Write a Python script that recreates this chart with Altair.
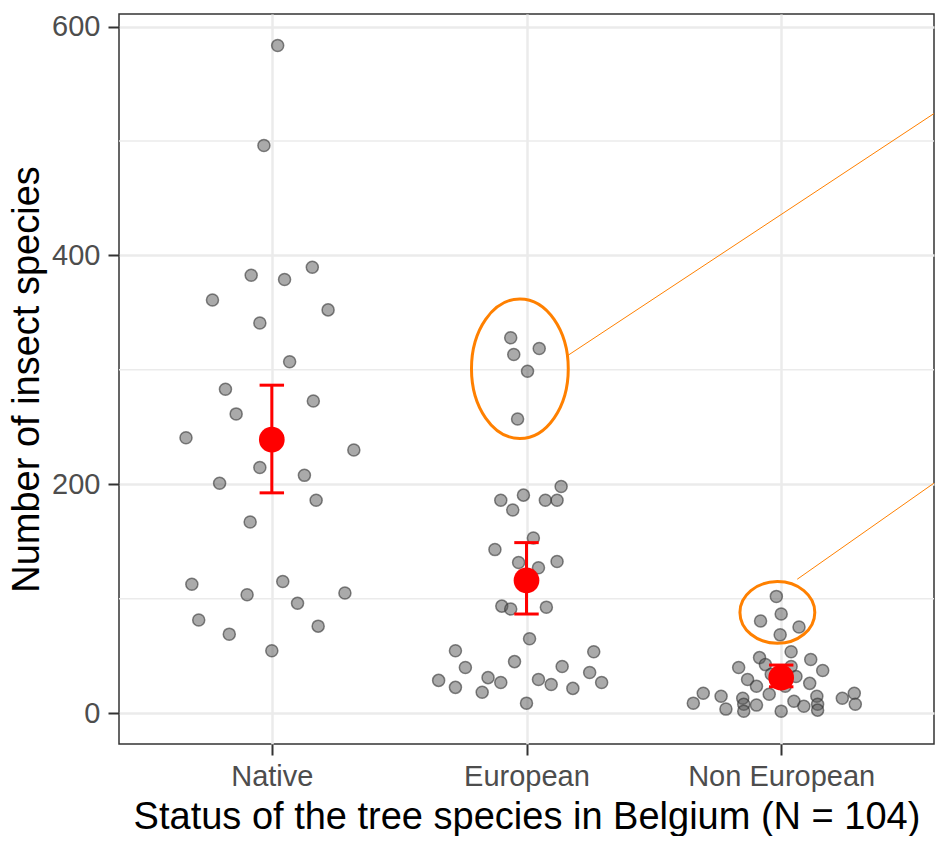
import json
import altair as alt
import pandas as pd

categories = ["Native", "European", "Non European"]

native_jitter = [0.023, -0.031, -0.081, 0.050, 0.159, -0.233, 0.221, -0.047, 0.070, -0.182,
                 0.163, -0.140, -0.337, 0.322, -0.047, 0.128, -0.205, 0.174, -0.085, -0.314,
                 0.043, -0.097, 0.287, 0.101, -0.287, 0.182, -0.167, 0.000]
native_values = [583.5, 496, 382.7, 379, 389.6, 361, 352.4, 341, 307, 283,
                 272.7, 261.5, 240.7, 230, 214.7, 207.8, 200.9, 186, 167, 112.6,
                 115, 103.5, 105, 96, 81.4, 76, 69, 54.5]

european_jitter = [-0.062, 0.050, -0.050, 0.004, -0.035, 0.136, -0.012, -0.101, 0.074, 0.120,
                   -0.054, 0.027, -0.124, -0.031, 0.047, 0.120, -0.097, -0.062, 0.078, 0.012,
                   -0.279, -0.047, 0.264, -0.240, 0.140, -0.345, -0.151, -0.101, -0.279, -0.174,
                   0.047, 0.097, 0.182, 0.248, 0.295, 0.000]
european_values = [328, 318.6, 313.4, 298.7, 257, 198, 190.5, 186, 186, 186,
                   177.5, 153, 142.9, 131.6, 127, 132.5, 93.5, 91, 92.6, 65,
                   54.5, 45, 53.7, 39.8, 40.7, 28.6, 31, 26.8, 22.5, 18.2,
                   29.4, 25, 21.6, 35.5, 26.8, 8.7]

noneuro_jitter = [-0.019, 0.000, -0.081, 0.070, -0.004, 0.039, -0.085, 0.116, -0.062, -0.167,
                  0.163, 0.039, -0.132, 0.058, 0.112, -0.097, 0.016, -0.047, -0.306, -0.236,
                  -0.151, 0.140, 0.240, 0.287, -0.345, -0.147, -0.097, 0.050, 0.089, 0.143,
                  0.291, -0.217, -0.147, 0.000, 0.143, 0.000, -0.039]
noneuro_values = [102, 86.6, 80.5, 75.3, 68.4, 53.7, 48.5, 46.8, 42.4, 39.8,
                  37.2, 40.7, 29.4, 32, 26, 23.4, 23.4, 16.5, 17.3, 14.7,
                  13, 14.7, 13, 17.3, 8.7, 7.8, 7, 10.4, 6, 7.8,
                  7.8, 3.5, 1.7, 1.7, 2.6, 29, 34]

mean_values = [239, 116, 31]
ci_lower = [192.5, 86.6, 23]
ci_upper = [286.6, 149, 42]

minor_grid = [100, 300, 500]

# highlighted groups (orange ellipses) and their connector lines, in data units
ellipse_x = [1.974, 2.985]
ellipse_y = [301, 88]
link_x = [2.165, 3.063]
link_y = [313, 117]
link_x_end = [3.6, 3.6]
link_y_end = [524, 201]

# ---------------------------------------------------------------
FONT = "Liberation Sans"
ORANGE = "#ff8000"
GRID = "#ebebeb"
PLOT_W = 815
PLOT_H = 730
PX_PER_X = PLOT_W / 3.2          # pixels per category unit
PX_PER_Y = PLOT_H / 638.0        # pixels per y unit

rows = []
for i, (jit, vals) in enumerate([(native_jitter, native_values),
                                 (european_jitter, european_values),
                                 (noneuro_jitter, noneuro_values)]):
    for j, v in zip(jit, vals):
        rows.append({"status": categories[i], "x": i + 1 + j, "y": v})
points = pd.DataFrame(rows)

summary = pd.DataFrame({
    "status": categories,
    "x": [i + 1 for i in range(len(categories))],
    "xl": [i + 1 - 0.048 for i in range(len(categories))],
    "xr": [i + 1 + 0.048 for i in range(len(categories))],
    "mean": mean_values,
    "lo": ci_lower,
    "hi": ci_upper,
})

minor_df = pd.DataFrame({"y": minor_grid})
ell1 = pd.DataFrame({"x": [ellipse_x[0]], "y": [ellipse_y[0]]})
ell2 = pd.DataFrame({"x": [ellipse_x[1]], "y": [ellipse_y[1]]})
links = pd.DataFrame({"x": link_x, "y": link_y, "x2": link_x_end, "y2": link_y_end})

xscale = alt.Scale(domain=[0.4, 3.6], nice=False, zero=False)
yscale = alt.Scale(domain=[-27, 611], nice=False, zero=False)

label_expr = json.dumps(categories) + "[datum.value - 1]"

X_TITLE = "Status of the tree species in Belgium (N = 104)"
Y_TITLE = "Number of insect species"

x_axis = alt.Axis(values=[1, 2, 3], labelExpr=label_expr, title=X_TITLE,
                  titleFontSize=38, titleFont=FONT, titleFontWeight="normal", titleColor="black",
                  labelFont=FONT, labelFontSize=29, labelColor="#4d4d4d", labelPadding=7,
                  labelLimit=400, labelFlush=False,
                  tickSize=11, tickWidth=2, tickColor="#333333", domain=False,
                  grid=True, gridColor=GRID, gridWidth=2.5, titlePadding=7)
y_axis = alt.Axis(values=[0, 200, 400, 600], title=Y_TITLE,
                  titleFontSize=38, titleFont=FONT, titleFontWeight="normal", titleColor="black",
                  labelFont=FONT, labelFontSize=29, labelColor="#4d4d4d", labelPadding=8,
                  tickSize=11, tickWidth=2, tickColor="#333333", domain=False,
                  grid=True, gridColor=GRID, gridWidth=2.5, titlePadding=5)


def X(field="x"):
    return alt.X(f"{field}:Q", scale=xscale, axis=x_axis, title=X_TITLE)


def Y(field="y"):
    return alt.Y(f"{field}:Q", scale=yscale, axis=y_axis, title=Y_TITLE)


def ellipse_shape(rx_px, ry_px):
    ry = ry_px / rx_px
    path = f"M -1 0 A 1 {ry:.3f} 0 1 0 1 0 A 1 {ry:.3f} 0 1 0 -1 0 Z"
    return path, (2 * rx_px) ** 2


minor = alt.Chart(minor_df).mark_rule(color=GRID, strokeWidth=1.5).encode(y=Y())

pts = alt.Chart(points).mark_point(
    filled=True, size=145, fill="#555555", fillOpacity=0.5,
    stroke="#333333", strokeOpacity=0.6, strokeWidth=1.5, opacity=1
).encode(x=X(), y=Y())

err = alt.Chart(summary).mark_rule(color="red", strokeWidth=3).encode(
    x=X(), y=Y("lo"), y2="hi:Q")
cap_hi = alt.Chart(summary).mark_rule(color="red", strokeWidth=3).encode(
    x=X("xl"), x2="xr:Q", y=Y("hi"))
cap_lo = alt.Chart(summary).mark_rule(color="red", strokeWidth=3).encode(
    x=X("xl"), x2="xr:Q", y=Y("lo"))
mean = alt.Chart(summary).mark_circle(color="red", size=660, opacity=1).encode(
    x=X(), y=Y("mean"))

# ellipse radii given in data units (x: category units, y: insect species)
e1_path, e1_size = ellipse_shape(0.19 * PX_PER_X, 61 * PX_PER_Y)
e2_path, e2_size = ellipse_shape(0.147 * PX_PER_X, 27 * PX_PER_Y)

ellipse1 = alt.Chart(ell1).mark_point(
    shape=e1_path, size=e1_size, filled=False, stroke=ORANGE, strokeWidth=3, opacity=1
).encode(x=X(), y=Y())
ellipse2 = alt.Chart(ell2).mark_point(
    shape=e2_path, size=e2_size, filled=False, stroke=ORANGE, strokeWidth=3, opacity=1
).encode(x=X(), y=Y())
link = alt.Chart(links).mark_rule(color=ORANGE, strokeWidth=1).encode(
    x=X(), y=Y(), x2="x2:Q", y2="y2:Q")

chart = alt.layer(minor, pts, err, cap_hi, cap_lo, mean, ellipse1, ellipse2, link).properties(
    width=PLOT_W, height=PLOT_H,
    padding={"left": 0, "top": 4, "right": 0, "bottom": 0},
    background="white",
).configure_view(
    stroke="#333333", strokeWidth=1.5
)

chart.save("out.html", embed_options={"renderer": "svg", "actions": False})
